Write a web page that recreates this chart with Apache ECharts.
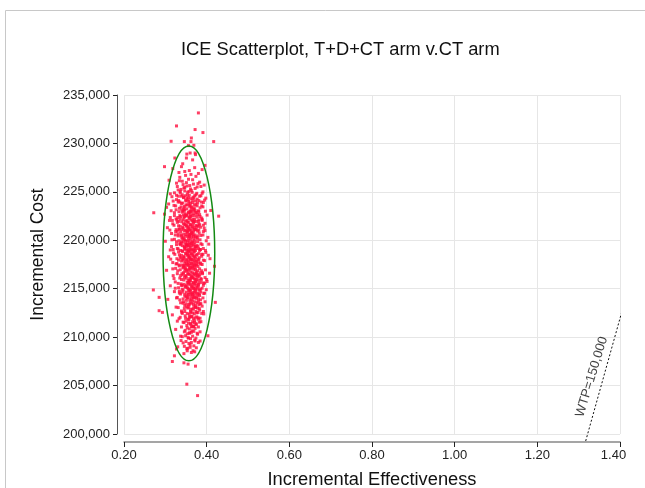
<!DOCTYPE html>
<html>
<head>
<meta charset="utf-8">
<script src="https://cdn.jsdelivr.net/npm/echarts@6/dist/echarts.min.js"></script>
<style>html,body{margin:0;padding:0;background:#fff;overflow:hidden;}#chart{width:645px;height:488px;}</style>
</head>
<body>
<div id="chart"></div>
<script>
var titleText = 'ICE Scatterplot, T+D+CT arm v.CT arm';
var xAxisName = 'Incremental Effectiveness';
var yAxisName = 'Incremental Cost';
var xTicks = [0.20, 0.40, 0.60, 0.80, 1.00, 1.20, 1.40];
var yTicks = [200000, 205000, 210000, 215000, 220000, 225000, 230000, 235000];

var outlierPoints = [[0.380,233150],[0.327,231806],[0.372,231433],[0.391,231122],[0.363,230563],[0.314,230222],[0.346,230191],[0.362,230191],[0.417,230191],[0.356,229777],[0.369,229808],[0.360,229011],[0.372,229011],[0.373,228845],[0.323,228493],[0.351,228493],[0.396,227738],[0.298,227603],[0.339,227603],[0.403,210143],[0.317,207483],[0.345,207349],[0.355,207214],[0.373,207007],[0.352,205144],[0.378,203964],[0.322,208073],[0.353,208591],[0.363,208415],[0.371,208487],[0.327,208767],[0.272,222843],[0.271,214873],[0.285,212730],[0.293,212555],[0.285,214108],[0.429,222491],[0.410,223080],[0.421,213590],[0.419,217316]];

var band226 = [[0.318,227400],[0.347,227100],[0.362,226800],[0.389,227300],[0.335,226500],[0.356,226300],[0.374,226600],[0.341,226100],[0.327,225900],[0.368,225800],[0.352,225600],[0.383,226000],[0.309,226200],[0.345,225400],[0.361,225300],[0.377,225500],[0.394,225700],[0.331,225200],[0.357,225050],[0.349,226700],[0.352,228900],[0.366,228300],[0.342,227900],[0.371,227500],[0.358,227200],[0.333,227000],[0.380,226900]];

var band223 = [[0.312,224800],[0.336,224900],[0.353,224700],[0.371,224600],[0.389,224850],[0.344,224400],[0.362,224300],[0.327,224200],[0.381,224100],[0.398,224350],[0.350,224050],[0.366,223900],[0.339,223800],[0.357,223750],[0.374,223700],[0.321,223600],[0.346,223500],[0.363,223450],[0.388,223550],[0.303,223400],[0.334,223300],[0.352,223250],[0.369,223200],[0.380,223050],[0.343,223000],[0.359,222950],[0.316,224500],[0.392,223900],[0.348,224600],[0.377,224250],[0.365,224950],[0.331,223950],[0.355,224150],[0.341,224700],[0.384,223350],[0.360,223600],[0.372,223100],[0.326,223150],[0.350,223650],[0.367,224450],[0.338,224550],[0.395,224150],[0.356,224400],[0.345,223150],[0.378,223850],[0.308,223750],[0.362,223000],[0.386,224600],[0.332,224100],[0.370,223350]];

var band220 = [[0.298,222700],[0.322,222850],[0.341,222900],[0.356,222800],[0.368,222750],[0.383,222650],[0.401,222600],[0.335,222550],[0.350,222500],[0.362,222450],[0.377,222400],[0.312,222350],[0.345,222300],[0.358,222250],[0.371,222200],[0.389,222150],[0.328,222100],[0.352,222050],[0.365,222000],[0.380,221950],[0.340,221900],[0.355,221850],[0.368,221800],[0.396,221750],[0.318,221700],[0.347,221650],[0.361,221600],[0.374,221550],[0.332,221500],[0.351,221450],[0.364,221400],[0.385,221350],[0.305,221300],[0.343,221250],[0.357,221200],[0.370,221150],[0.326,221100],[0.349,221050],[0.362,221000],[0.378,220950],[0.392,220900],[0.337,220850],[0.354,220800],[0.367,220750],[0.315,220700],[0.345,220650],[0.359,220600],[0.372,220550],[0.386,220500],[0.331,220450],[0.350,220400],[0.363,220350],[0.376,220300],[0.340,220250],[0.356,220200],[0.369,220150],[0.322,220100],[0.347,220050],[0.403,220300],[0.381,221700],[0.336,222200],[0.360,222650],[0.373,221100],[0.353,220950],[0.344,221700],[0.366,221250],[0.357,222400],[0.329,221850],[0.388,222300],[0.348,222750],[0.375,222850],[0.310,222050],[0.363,220700],[0.339,220550],[0.352,221550],[0.370,221950],[0.358,220450],[0.346,222450],[0.382,220750],[0.325,220900],[0.367,222150],[0.354,221300],[0.342,220150],[0.379,221450],[0.361,222900],[0.333,221150],[0.394,221250],[0.351,222600],[0.368,220400],[0.356,221050]];

var band217 = [[0.300,219900],[0.327,219850],[0.343,219800],[0.358,219750],[0.371,219700],[0.386,219650],[0.405,219600],[0.336,219550],[0.352,219500],[0.365,219450],[0.379,219400],[0.315,219350],[0.346,219300],[0.360,219250],[0.374,219200],[0.392,219150],[0.331,219100],[0.355,219050],[0.368,219000],[0.383,218950],[0.341,218900],[0.357,218850],[0.370,218800],[0.398,218750],[0.320,218700],[0.349,218650],[0.363,218600],[0.377,218550],[0.334,218500],[0.353,218450],[0.366,218400],[0.388,218350],[0.308,218300],[0.345,218250],[0.359,218200],[0.373,218150],[0.328,218100],[0.351,218050],[0.364,218000],[0.381,217950],[0.395,217900],[0.339,217850],[0.356,217800],[0.369,217750],[0.318,217700],[0.347,217650],[0.362,217600],[0.375,217550],[0.389,217500],[0.333,217450],[0.352,217400],[0.366,217350],[0.379,217300],[0.343,217250],[0.358,217200],[0.372,217150],[0.325,217100],[0.349,217050],[0.408,218100],[0.384,219050],[0.338,219700],[0.362,218950],[0.376,217800],[0.355,217550],[0.347,219100],[0.369,218250],[0.360,219600],[0.332,218800],[0.391,218550],[0.351,219350],[0.378,219850],[0.312,219000],[0.366,217250],[0.342,217950],[0.354,218700],[0.373,219350],[0.361,217950],[0.349,219650],[0.385,217650],[0.328,217600],[0.370,219100],[0.357,218300],[0.345,217400],[0.382,218200],[0.364,219800],[0.336,218250],[0.397,218950],[0.354,219550],[0.371,217450],[0.359,217050]];

var band214 = [[0.303,216900],[0.330,216850],[0.347,216800],[0.362,216750],[0.375,216700],[0.390,216650],[0.407,216600],[0.340,216550],[0.356,216500],[0.369,216450],[0.383,216400],[0.319,216350],[0.350,216300],[0.364,216250],[0.378,216200],[0.396,216150],[0.335,216100],[0.359,216050],[0.372,216000],[0.387,215950],[0.345,215900],[0.361,215850],[0.374,215800],[0.401,215750],[0.324,215700],[0.353,215650],[0.367,215600],[0.381,215550],[0.338,215500],[0.357,215450],[0.370,215400],[0.392,215350],[0.312,215300],[0.349,215250],[0.363,215200],[0.377,215150],[0.332,215100],[0.355,215050],[0.368,215000],[0.385,214950],[0.399,214900],[0.343,214850],[0.360,214800],[0.373,214750],[0.322,214700],[0.351,214650],[0.366,214600],[0.379,214550],[0.393,214500],[0.337,214450],[0.356,214400],[0.370,214350],[0.383,214300],[0.347,214250],[0.362,214200],[0.376,214150],[0.329,214100],[0.353,214050],[0.388,216850],[0.366,216150],[0.380,215250],[0.344,216650],[0.371,214950],[0.358,215750],[0.386,214650],[0.341,215350],[0.375,216550],[0.364,214450],[0.395,215600],[0.352,216950],[0.368,214050],[0.334,214750],[0.381,216300],[0.357,214900],[0.373,215700]];

var band211 = [[0.306,213900],[0.335,213850],[0.351,213800],[0.366,213750],[0.380,213700],[0.396,213650],[0.343,213500],[0.359,213400],[0.373,213300],[0.389,213200],[0.326,213100],[0.354,213000],[0.368,212900],[0.383,212800],[0.339,212700],[0.361,212600],[0.376,212500],[0.393,212400],[0.317,212300],[0.348,212200],[0.364,212100],[0.379,212000],[0.333,211900],[0.357,211800],[0.371,211700],[0.386,211600],[0.345,211500],[0.362,211400],[0.375,211300],[0.352,211200],[0.369,211100],[0.384,213450],[0.341,212450],[0.358,212050],[0.374,213050],[0.329,211650],[0.365,211050],[0.392,212650],[0.347,213250],[0.380,211850]];

var band208 = [[0.325,210800],[0.348,210700],[0.363,210500],[0.378,210300],[0.337,210100],[0.356,209900],[0.371,209700],[0.343,209400],[0.360,209200],[0.384,209600],[0.330,209000],[0.352,208800],[0.367,208600],[0.345,208300],[0.375,208900],[0.358,210400]];

var corePoints = [[0.334,226150],[0.351,225950],[0.366,226250],[0.379,225850],[0.343,225750],
[0.329,225550],[0.347,225450],[0.359,225650],[0.372,225350],[0.386,225550],[0.338,225250],
[0.336,225050],[0.354,224950],[0.363,225150],[0.376,224850],[0.391,225000],[0.322,224900],[0.347,225100],
[0.331,224550],[0.344,224450],[0.358,224650],[0.369,224350],[0.383,224550],[0.352,224350],[0.327,224650],[0.374,224700],
[0.319,224050],[0.335,223950],[0.349,224150],[0.361,223850],[0.373,224050],[0.387,223950],[0.357,224000],[0.342,223850],[0.366,224150],
[0.325,223550],[0.338,223450],[0.353,223650],[0.364,223350],[0.377,223550],[0.391,223450],[0.345,223350],[0.359,223500],[0.370,223650],
[0.314,223050],[0.333,222950],[0.347,223100],[0.356,222900],[0.368,223050],[0.381,222950],[0.397,223000],[0.340,223150],[0.362,223150],[0.374,222900],
[0.322,222550],[0.337,222450],[0.351,222600],[0.359,222400],[0.371,222550],[0.384,222450],[0.344,222600],[0.365,222550],[0.378,222650],[0.330,222350],
[0.317,222050],[0.333,221950],[0.343,222100],[0.355,221900],[0.362,222100],[0.374,221950],[0.389,222050],[0.349,221950],[0.368,221900],[0.381,222100],[0.326,222200],
[0.321,221550],[0.336,221450],[0.348,221600],[0.357,221400],[0.366,221550],[0.377,221450],[0.392,221550],[0.342,221350],[0.360,221650],[0.371,221350],[0.383,221600],
[0.311,221050],[0.329,220950],[0.340,221100],[0.352,220900],[0.359,221100],[0.369,220950],[0.381,221050],[0.346,221000],[0.364,220850],[0.375,221150],[0.396,221000],[0.334,221150],
[0.324,220550],[0.338,220450],[0.350,220600],[0.358,220400],[0.367,220550],[0.379,220450],[0.391,220550],[0.344,220350],[0.361,220650],[0.373,220350],[0.355,220500],[0.331,220650],
[0.316,220050],[0.333,219950],[0.345,220100],[0.353,219900],[0.362,220100],[0.371,219950],[0.384,220050],[0.339,219850],[0.357,220000],[0.366,219850],[0.378,220150],[0.349,219950],[0.399,219950],
[0.327,219550],[0.341,219450],[0.351,219600],[0.359,219400],[0.368,219550],[0.376,219450],[0.389,219550],[0.346,219350],[0.363,219650],[0.372,219350],[0.335,219650],[0.355,219450],
[0.319,219050],[0.337,218950],[0.348,219100],[0.356,218900],[0.364,219100],[0.373,218950],[0.385,219050],[0.342,218850],[0.360,219000],[0.369,218850],[0.380,219150],[0.352,218950],[0.329,219150],
[0.323,218550],[0.339,218450],[0.350,218600],[0.358,218400],[0.367,218550],[0.375,218450],[0.388,218550],[0.345,218350],[0.362,218650],[0.371,218350],[0.355,218500],[0.381,218650],[0.404,218450],
[0.313,218050],[0.332,217950],[0.344,218100],[0.353,217900],[0.361,218100],[0.370,217950],[0.379,218050],[0.392,217950],[0.348,217850],[0.365,218000],[0.374,217850],[0.357,218150],[0.338,218150],
[0.326,217550],[0.340,217450],[0.351,217600],[0.359,217400],[0.368,217550],[0.376,217450],[0.386,217550],[0.346,217350],[0.363,217650],[0.372,217350],[0.355,217500],[0.381,217650],[0.334,217350],
[0.318,217050],[0.336,216950],[0.348,217100],[0.357,216900],[0.365,217100],[0.373,216950],[0.383,217050],[0.397,216950],[0.352,216850],[0.369,217000],[0.378,216850],[0.361,217150],[0.343,217150],
[0.329,216550],[0.343,216450],[0.354,216600],[0.362,216400],[0.370,216550],[0.378,216450],[0.390,216550],[0.349,216350],[0.366,216650],[0.374,216350],[0.358,216500],[0.384,216650],[0.337,216350],
[0.321,216050],[0.339,215950],[0.351,216100],[0.359,215900],[0.367,216100],[0.376,215950],[0.386,216050],[0.400,215950],[0.355,215850],[0.371,216000],[0.381,215850],[0.363,216150],[0.346,216150],
[0.331,215550],[0.345,215450],[0.356,215600],[0.364,215400],[0.372,215550],[0.380,215450],[0.393,215550],[0.351,215350],[0.368,215650],[0.376,215350],[0.360,215500],[0.387,215650],[0.339,215350],
[0.324,215050],[0.341,214950],[0.353,215100],[0.361,214900],[0.369,215100],[0.378,214950],[0.389,215050],[0.357,214850],[0.373,215000],[0.383,214850],[0.365,215150],[0.348,215150],
[0.334,214550],[0.347,214450],[0.358,214600],[0.366,214400],[0.374,214550],[0.382,214450],[0.395,214550],[0.353,214350],[0.370,214650],[0.378,214350],[0.362,214500],[0.341,214650],
[0.327,214050],[0.343,213950],[0.355,214100],[0.363,213900],[0.371,214100],[0.380,213950],[0.391,214050],[0.359,213850],[0.375,214000],[0.385,213850],[0.367,214150],[0.350,214150],
[0.337,213550],[0.350,213450],[0.360,213600],[0.368,213400],[0.377,213550],[0.386,213450],[0.356,213350],[0.372,213650],[0.364,213500],[0.344,213650],[0.381,213350],
[0.331,213050],[0.346,212950],[0.357,213100],[0.365,212900],[0.373,213100],[0.382,212950],[0.361,212850],[0.378,213000],[0.369,213150],[0.352,213150],
[0.340,212550],[0.353,212450],[0.362,212600],[0.370,212400],[0.379,212550],[0.388,212450],[0.358,212350],[0.374,212650],[0.366,212500],[0.347,212650],
[0.336,212050],[0.349,211950],[0.360,212100],[0.368,211900],[0.376,212100],[0.384,211950],[0.355,211850],[0.372,212000],[0.364,212150],
[0.343,211550],[0.356,211450],[0.366,211600],[0.374,211400],[0.382,211550],[0.361,211350],[0.350,211650],[0.370,211500],
[0.339,211050],[0.353,210950],[0.363,211100],[0.372,210900],[0.380,211050],[0.358,210850],[0.368,211150],
[0.346,210550],[0.359,210450],[0.369,210600],[0.377,210400],[0.353,210350],[0.365,210650],[0.384,210550],
[0.341,210050],[0.355,209950],[0.366,210100],[0.374,209900],[0.361,209850],[0.349,210150],
[0.350,209550],[0.363,209450],[0.372,209600],[0.357,209350],[0.338,209650],[0.380,209450],
[0.346,209050],[0.360,208950],[0.369,209100],[0.354,208850]];

var ellipseCenter = [0.357, 218650];
var ellipseRadii = [0.0625, 11090];
var wtpLine = [[1.317, 199280], [1.405, 212700]];
var wtpLabel = 'WTP=150,000';
var wtpLabelAt = [1.3315, 205900];

var allPoints = [].concat(outlierPoints, band226, band223, band220, band217, band214, band211, band208, corePoints);

var chart = echarts.init(document.getElementById('chart'), null, {renderer: 'canvas'});
var font = 'Liberation Sans, Arial, sans-serif';
var lastTick = xTicks[xTicks.length - 1];
chart.setOption({
  animation: false,
  backgroundColor: '#fff',
  textStyle: {fontFamily: font},
  title: {
    text: titleText, left: 176, top: 36,
    textStyle: {fontFamily: font, fontSize: 18.3, fontWeight: 'normal', color: '#111'}
  },
  graphic: [{
    type: 'rect', z: -1, silent: true,
    shape: {x: 5.5, y: 10.5, width: 700, height: 600},
    style: {fill: 'none', stroke: '#c8c8c8', lineWidth: 1}
  }],
  grid: {left: 124, right: 25, top: 95, bottom: 54, containLabel: false, outerBoundsMode: 'none'},
  xAxis: {
    type: 'value', min: xTicks[0], max: lastTick, interval: 0.2,
    offset: 8,
    name: xAxisName, nameLocation: 'middle', nameGap: 29,
    nameTextStyle: {fontFamily: font, fontSize: 18.3, color: '#111'},
    axisLine: {show: true, lineStyle: {color: '#888', width: 1.5}},
    axisTick: {show: true, length: 5, lineStyle: {color: '#222'}},
    axisLabel: {fontFamily: font, fontSize: 13, color: '#222', margin: 7,
      formatter: function (v) {
        return Math.abs(v - lastTick) < 1e-9 ? '{last|' + v.toFixed(2) + '}' : v.toFixed(2);
      },
      rich: {last: {fontFamily: font, fontSize: 13, color: '#222', padding: [0, 13, 0, 0]}}
    },
    splitLine: {show: true, lineStyle: {color: '#e6e6e6'}}
  },
  yAxis: {
    type: 'value', min: yTicks[0], max: yTicks[yTicks.length - 1], interval: 5000,
    offset: 7,
    name: yAxisName, nameLocation: 'middle', nameGap: 70,
    nameTextStyle: {fontFamily: font, fontSize: 17.5, color: '#111', padding: [0, 0, 0, 20]},
    axisLine: {show: true, lineStyle: {color: '#555', width: 1}},
    axisTick: {show: true, length: 4, lineStyle: {color: '#222'}},
    axisLabel: {fontFamily: font, fontSize: 13, color: '#222', margin: 7,
      formatter: function (v) { return v.toLocaleString('en-US'); }},
    splitLine: {show: true, lineStyle: {color: '#e6e6e6'}}
  },
  series: [
    {
      type: 'scatter', data: allPoints, symbol: 'rect', symbolSize: 3,
      itemStyle: {color: '#ff0f3f'}, z: 3
    },
    {
      type: 'custom', data: [ellipseCenter], z: 4, clip: false,
      renderItem: function (params, api) {
        var c = api.coord([api.value(0), api.value(1)]);
        var s = api.size([ellipseRadii[0], ellipseRadii[1]]);
        return {
          type: 'ellipse',
          shape: {cx: c[0], cy: c[1], rx: s[0], ry: s[1]},
          style: {fill: 'none', stroke: '#138a13', lineWidth: 1.5}
        };
      }
    },
    {
      type: 'line', data: wtpLine, clip: false, symbol: 'none', z: 5,
      lineStyle: {color: '#111', width: 1, type: [2, 2]}
    },
    {
      type: 'scatter', data: [wtpLabelAt], symbolSize: 0, z: 6, silent: true,
      label: {show: true, position: 'inside', rotate: 73, formatter: wtpLabel,
        fontFamily: font, fontSize: 13, color: '#111'}
    }
  ]
});
</script>
</body>
</html>
